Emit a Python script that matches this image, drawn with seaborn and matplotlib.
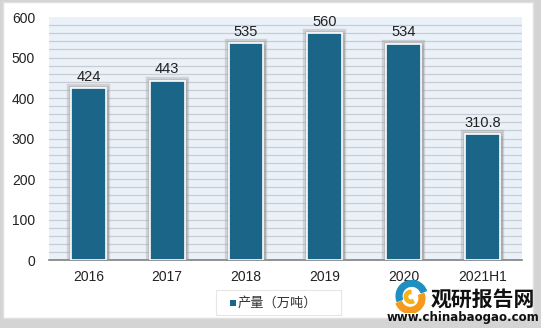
import matplotlib
matplotlib.use("Agg")
import matplotlib.pyplot as plt
import seaborn as sns
import pandas as pd
from matplotlib.patches import Rectangle, FancyBboxPatch, Wedge
import matplotlib.patheffects as pe

categories = ["2016", "2017", "2018", "2019", "2020", "2021H1"]
values = [424, 443, 535, 560, 534, 310.8]
value_labels = ["424", "443", "535", "560", "534", "310.8"]
series_name = "产量（万吨）"

sns.set_theme(style="white")
plt.rcParams['font.family'] = ['Liberation Sans', 'Noto Sans CJK SC', 'DejaVu Sans']

df = pd.DataFrame({"year": categories, "value": values})

fig = plt.figure(figsize=(5.41, 3.28), dpi=100)
fig.patch.set_facecolor("white")
# outer frame with shadow
fig.patches.append(Rectangle((0.0, 0.0), 1.0, 1.0, transform=fig.transFigure,
                             facecolor="#d4d4d4", edgecolor="none", zorder=-3))
fig.patches.append(Rectangle((0.006, 0.03), 0.98, 0.965, transform=fig.transFigure,
                             facecolor="white", edgecolor="#e0e0e0", lw=1.0, zorder=-2))

ax = fig.add_axes([0.0906, 0.207, 0.874, 0.741])
ax.set_zorder(2)
ax.set_facecolor("#eaf1f8")
bar_color = "#1b6688"
sns.barplot(data=df, x="year", y="value", color=bar_color, width=0.44, ax=ax,
            saturation=1, edgecolor="white", linewidth=1.2, zorder=3)
for p in ax.patches:
    p.set_path_effects([
        pe.SimplePatchShadow(offset=(2, -1), shadow_rgbFace="#8a8a8a", alpha=0.35),
        pe.Stroke(linewidth=6, foreground="#9a9a9a", alpha=0.35),
        pe.Stroke(linewidth=3.5, foreground="#9a9a9a", alpha=0.35),
        pe.Normal()])

ax.set_ylim(0, 600)
ax.set_yticks(range(0, 601, 100))
for y in range(20, 600, 20):
    ax.axhline(y, color="#c9cdd2", lw=0.9, zorder=1)
ax.set_xlim(-0.5, 5.5)
ax.set_xlabel("")
ax.set_ylabel("")
for s in ["top", "right", "left"]:
    ax.spines[s].set_visible(False)
ax.spines["bottom"].set_color("#808080")
ax.spines["bottom"].set_linewidth(1.2)
ax.tick_params(axis="both", length=0, labelsize=10, colors="#222222", pad=7)
ax.tick_params(axis="y", pad=10)

for i, (v, lab) in enumerate(zip(values, value_labels)):
    ax.text(i, v + 11, lab, ha="center", va="bottom", fontsize=10.5, color="#222222", zorder=5)

# legend box
fig.patches.append(FancyBboxPatch((0.40, 0.04), 0.23, 0.075, boxstyle="square,pad=0",
                                  transform=fig.transFigure, facecolor="white",
                                  edgecolor="#e6e6e6", lw=0.8, zorder=1))
fig.patches.append(Rectangle((0.425, 0.068), 0.011, 0.018, transform=fig.transFigure,
                             facecolor=bar_color, edgecolor="none", zorder=2))
fig.text(0.44, 0.077, series_name, fontsize=9.5, color="#333333", va="center", ha="left",
         family=['Noto Sans CJK SC', 'DejaVu Sans'])

# logo
fig.text(0.892, 0.088, "观研报告网", fontsize=15, fontweight="bold", color="#111111",
         ha="center", va="center", family=['Noto Sans CJK SC', 'DejaVu Sans'])
fig.text(0.856, 0.033, "www.chinabaogao.com", fontsize=8.5, fontweight="bold", color="#111111",
         ha="center", va="center", family=['DejaVu Sans'])
# icon (two swirls)
icon_ax = fig.add_axes([0.722, 0.045, 0.075, 0.1])
icon_ax.set_zorder(3)
icon_ax.set_xlim(-1, 1)
icon_ax.set_ylim(-1, 1)
icon_ax.set_aspect("equal")
icon_ax.axis("off")
icon_ax.add_patch(Wedge((0.05, 0.05), 0.95, 20, 200, width=0.35, color="#1e8fc0"))
icon_ax.add_patch(Wedge((-0.05, -0.1), 0.9, 200, 380, width=0.35, color="#f59a1b"))
icon_ax.add_patch(Wedge((0.0, 0.0), 0.4, 90, 300, width=0.2, color="#f5b31b"))

fig.savefig("out.png", dpi=100, facecolor="white")
